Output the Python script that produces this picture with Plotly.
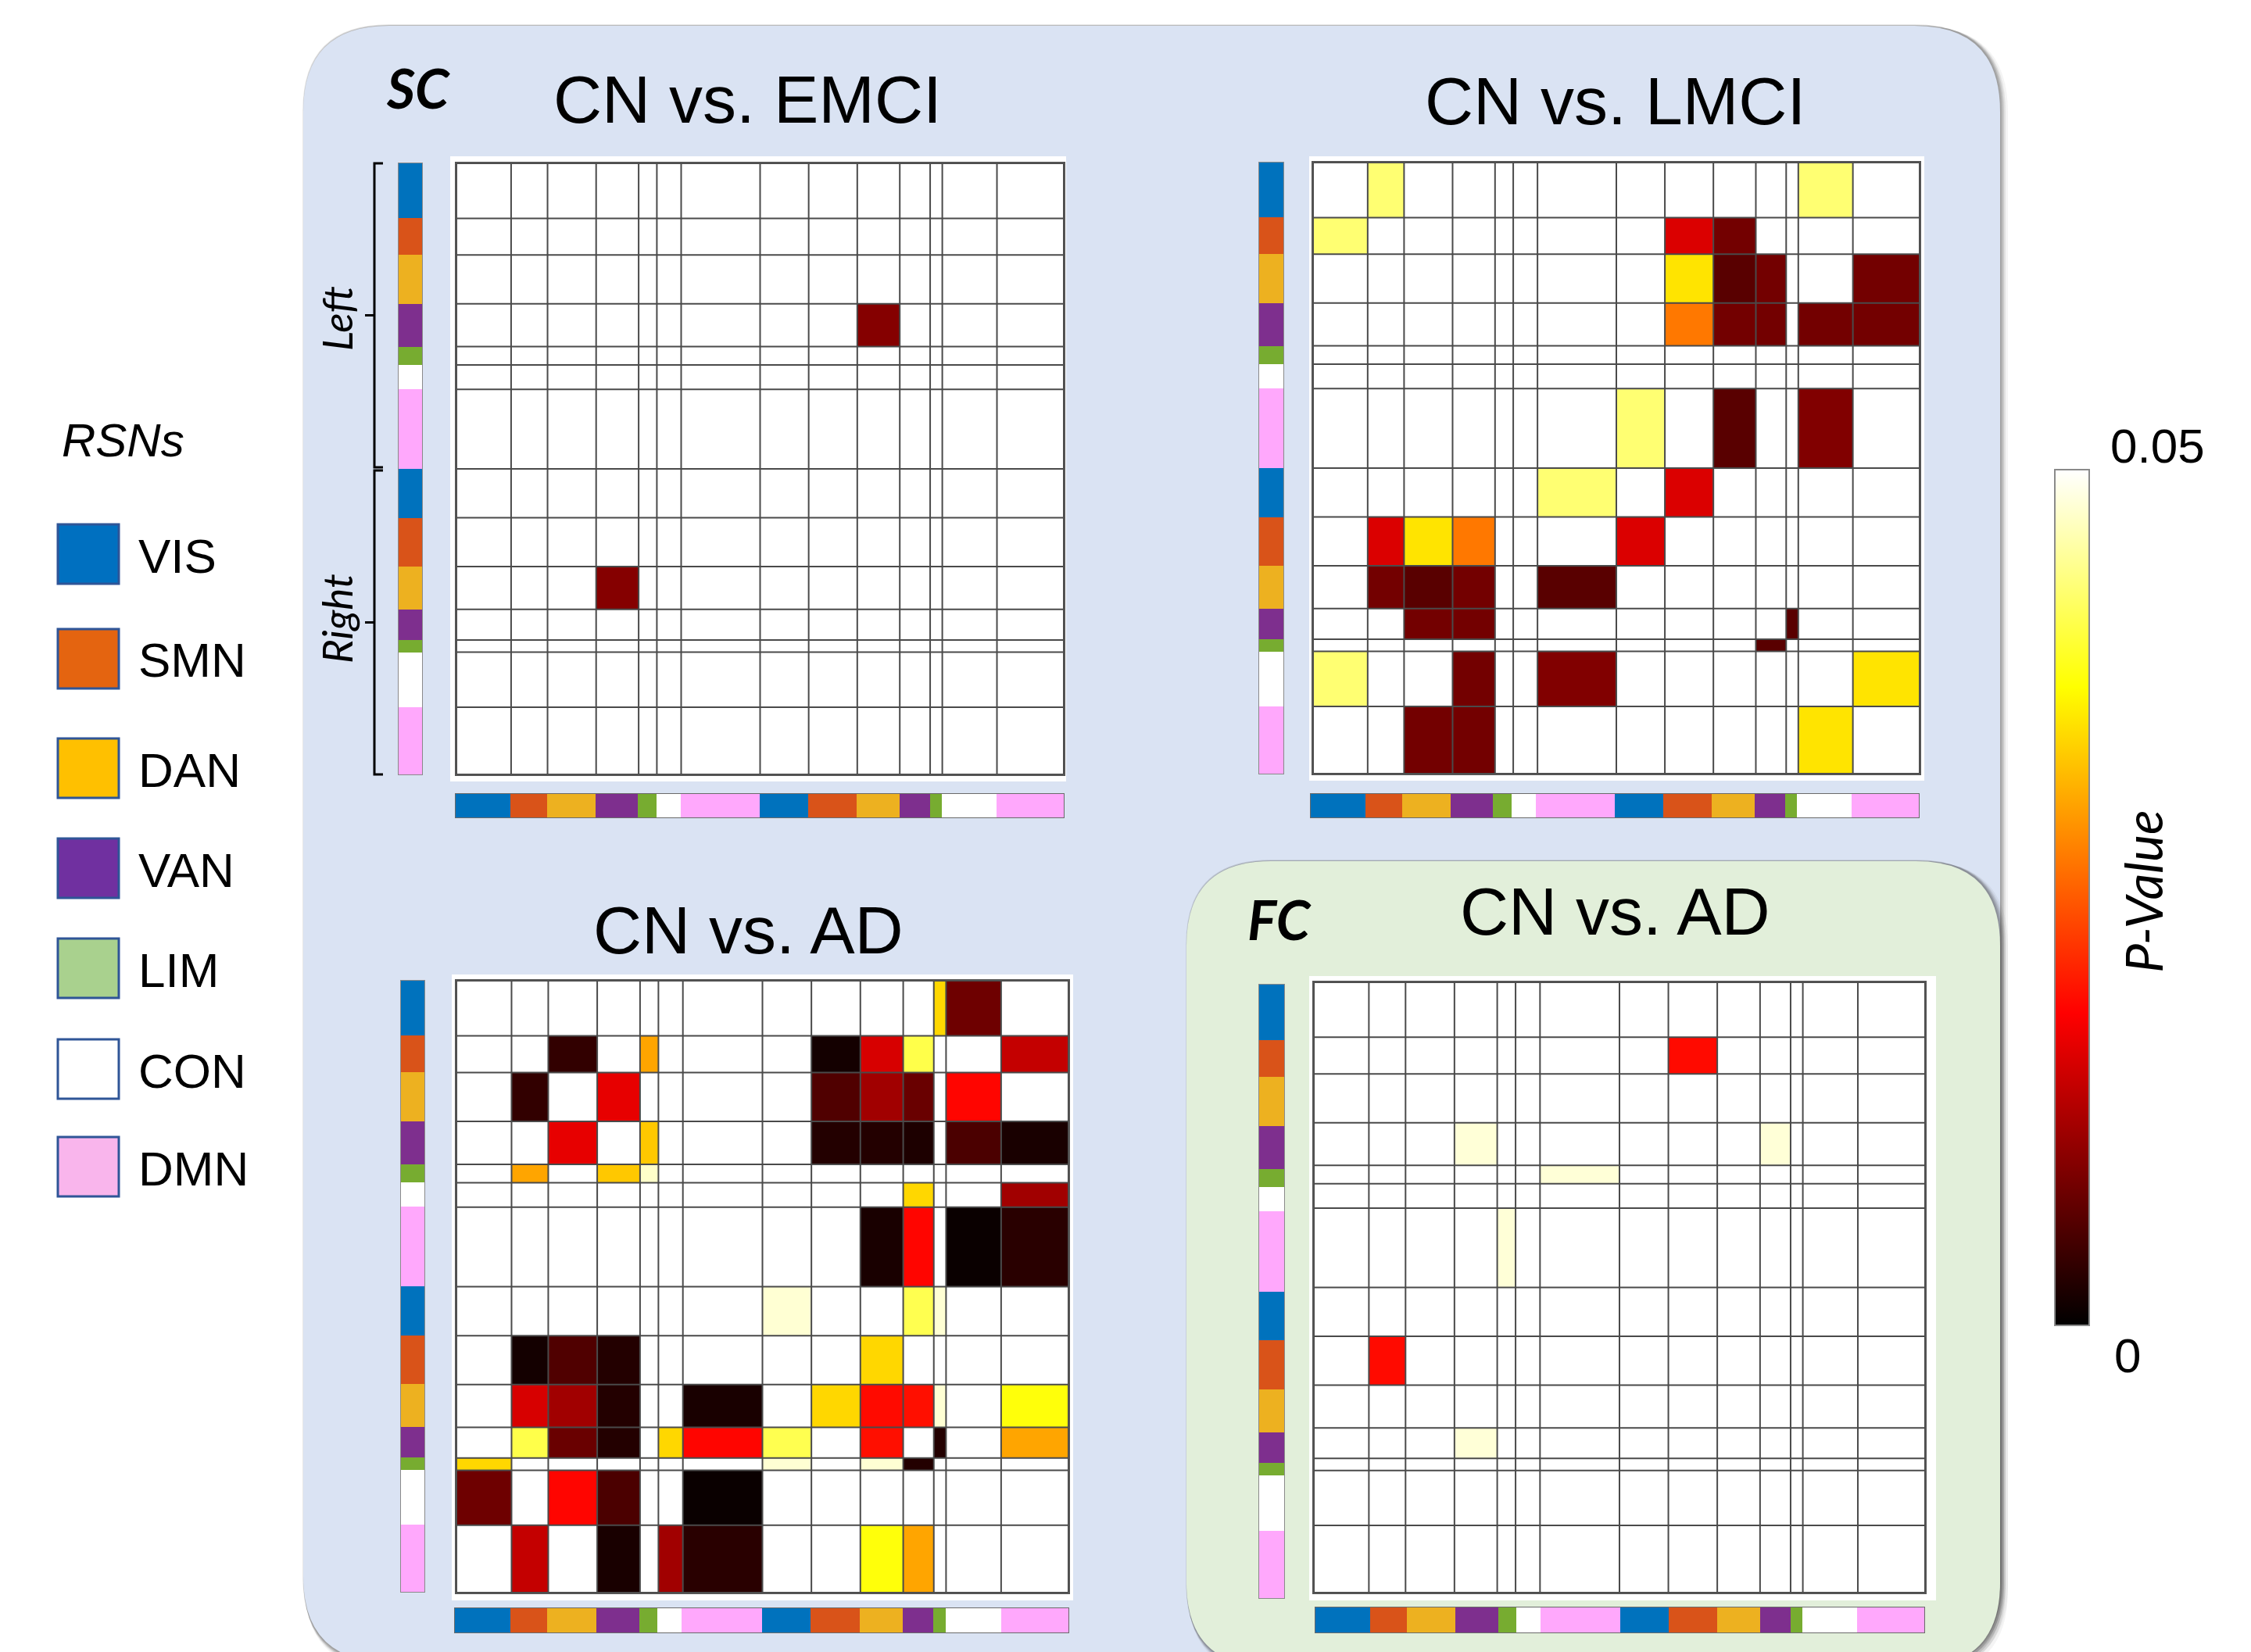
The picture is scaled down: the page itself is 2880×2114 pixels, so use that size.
import numpy as np
import plotly.graph_objects as go

W, H = 2880, 2114
SANS = "Liberation Sans, Arial, sans-serif"
HUMAN = "Lato, Open Sans, sans-serif"

# ---------------- data ----------------
NETWORKS = ["VIS", "SMN", "DAN", "VAN", "LIM", "CON", "DMN"]
HEMISPHERES = ["L", "R"]
BLOCKS = [f"{n}-{h}" for h in HEMISPHERES for n in NETWORKS]
ROI_COUNTS = [9, 6, 8, 7, 3, 4, 13, 8, 8, 7, 5, 2, 9, 11]

STRIP_COLORS = ["#0072BD", "#D95319", "#EDB120", "#7E2F8E", "#77AC30", "#FFFFFF", "#FFA8FC"]
LEGEND_COLORS = ["#0070C0", "#E46410", "#FFC000", "#7030A0", "#A9D18E", "#FFFFFF", "#F9B5EC"]

P_MAX = 0.05  # non-significant cells sit at the top of the scale (white)

CN_EMCI_SC = [
    ("VAN-L", "DAN-R", 0.0095), ("DAN-R", "VAN-L", 0.0095),
]

CN_LMCI_SC = [
    ("VIS-L", "SMN-L", 0.043), ("VIS-L", "CON-R", 0.043),
    ("SMN-L", "VIS-L", 0.043), ("SMN-L", "SMN-R", 0.0157), ("SMN-L", "DAN-R", 0.0082),
    ("DAN-L", "SMN-R", 0.0353), ("DAN-L", "DAN-R", 0.0064), ("DAN-L", "VAN-R", 0.0082), ("DAN-L", "DMN-R", 0.0082),
    ("VAN-L", "SMN-R", 0.0272), ("VAN-L", "DAN-R", 0.0082), ("VAN-L", "VAN-R", 0.0082),
    ("VAN-L", "CON-R", 0.0082), ("VAN-L", "DMN-R", 0.0082),
    ("DMN-L", "VIS-R", 0.043), ("DMN-L", "DAN-R", 0.0064), ("DMN-L", "CON-R", 0.0092),
    ("VIS-R", "DMN-L", 0.043), ("VIS-R", "SMN-R", 0.0157),
    ("SMN-R", "SMN-L", 0.0157), ("SMN-R", "DAN-L", 0.0353), ("SMN-R", "VAN-L", 0.0272), ("SMN-R", "VIS-R", 0.0157),
    ("DAN-R", "SMN-L", 0.0082), ("DAN-R", "DAN-L", 0.0064), ("DAN-R", "VAN-L", 0.0082), ("DAN-R", "DMN-L", 0.0064),
    ("VAN-R", "DAN-L", 0.0082), ("VAN-R", "VAN-L", 0.0082), ("VAN-R", "LIM-R", 0.0064),
    ("LIM-R", "VAN-R", 0.0064),
    ("CON-R", "VIS-L", 0.043), ("CON-R", "VAN-L", 0.0082), ("CON-R", "DMN-L", 0.0092), ("CON-R", "DMN-R", 0.0353),
    ("DMN-R", "DAN-L", 0.0082), ("DMN-R", "VAN-L", 0.0082), ("DMN-R", "CON-R", 0.0353),
]

CN_AD_SC = [
    ("VIS-L", "LIM-R", 0.0343), ("VIS-L", "CON-R", 0.0079),
    ("SMN-L", "DAN-L", 0.0036), ("SMN-L", "LIM-L", 0.0306), ("SMN-L", "SMN-R", 0.0014),
    ("SMN-L", "DAN-R", 0.0154), ("SMN-L", "VAN-R", 0.041), ("SMN-L", "DMN-R", 0.0140),
    ("DAN-L", "SMN-L", 0.0036), ("DAN-L", "VAN-L", 0.0165), ("DAN-L", "SMN-R", 0.0057),
    ("DAN-L", "DAN-R", 0.0115), ("DAN-L", "VAN-R", 0.0075), ("DAN-L", "CON-R", 0.0186),
    ("VAN-L", "DAN-L", 0.0165), ("VAN-L", "LIM-L", 0.0332), ("VAN-L", "SMN-R", 0.0025),
    ("VAN-L", "DAN-R", 0.0025), ("VAN-L", "VAN-R", 0.0021), ("VAN-L", "CON-R", 0.0054), ("VAN-L", "DMN-R", 0.0018),
    ("LIM-L", "SMN-L", 0.0306), ("LIM-L", "VAN-L", 0.0332), ("LIM-L", "LIM-L", 0.0473),
    ("CON-L", "VAN-R", 0.0343), ("CON-L", "DMN-R", 0.0115),
    ("DMN-L", "DAN-R", 0.0018), ("DMN-L", "VAN-R", 0.0186), ("DMN-L", "CON-R", 0.0007), ("DMN-L", "DMN-R", 0.0029),
    ("VIS-R", "VIS-R", 0.0478), ("VIS-R", "VAN-R", 0.0413), ("VIS-R", "LIM-R", 0.0478),
    ("SMN-R", "SMN-L", 0.0014), ("SMN-R", "DAN-L", 0.0057), ("SMN-R", "VAN-L", 0.0025), ("SMN-R", "DAN-R", 0.0343),
    ("DAN-R", "SMN-L", 0.0154), ("DAN-R", "DAN-L", 0.0115), ("DAN-R", "VAN-L", 0.0025), ("DAN-R", "DMN-L", 0.0018),
    ("DAN-R", "SMN-R", 0.0343), ("DAN-R", "DAN-R", 0.0190), ("DAN-R", "VAN-R", 0.0194),
    ("DAN-R", "LIM-R", 0.0478), ("DAN-R", "DMN-R", 0.0378),
    ("VAN-R", "SMN-L", 0.041), ("VAN-R", "DAN-L", 0.0075), ("VAN-R", "VAN-L", 0.0025), ("VAN-R", "CON-L", 0.0343),
    ("VAN-R", "DMN-L", 0.0186), ("VAN-R", "VIS-R", 0.0413), ("VAN-R", "DAN-R", 0.0194),
    ("VAN-R", "LIM-R", 0.0025), ("VAN-R", "DMN-R", 0.0306),
    ("LIM-R", "VIS-L", 0.0343), ("LIM-R", "VIS-R", 0.0478), ("LIM-R", "DAN-R", 0.0478), ("LIM-R", "VAN-R", 0.0025),
    ("CON-R", "VIS-L", 0.0079), ("CON-R", "DAN-L", 0.0186), ("CON-R", "VAN-L", 0.0054), ("CON-R", "DMN-L", 0.0007),
    ("DMN-R", "SMN-L", 0.0140), ("DMN-R", "VAN-L", 0.0018), ("DMN-R", "CON-L", 0.0115),
    ("DMN-R", "DMN-L", 0.0029), ("DMN-R", "DAN-R", 0.0378), ("DMN-R", "VAN-R", 0.0306),
]

CN_AD_FC = [
    ("SMN-L", "SMN-R", 0.019), ("SMN-R", "SMN-L", 0.019),
    ("VAN-L", "VAN-L", 0.048), ("VAN-L", "VAN-R", 0.048), ("VAN-R", "VAN-L", 0.048),
    ("LIM-L", "DMN-L", 0.048), ("DMN-L", "LIM-L", 0.048),
]

PANEL_TITLES = ["CN vs. EMCI", "CN vs. LMCI", "CN vs. AD", "CN vs. AD"]
PANEL_DATA = [CN_EMCI_SC, CN_LMCI_SC, CN_AD_SC, CN_AD_FC]

# ---------------- layout geometry (pixels) ----------------
MATRIX_BOX = [(584, 209, 1361, 991), (1680, 208, 2456, 990), (584, 1255, 1367, 2038), (1681, 1257, 2463, 2038)]
LEFT_BOX = [(510, 209, 540, 991), (1611, 208, 1642, 990), (513, 1255, 543, 2037), (1611, 1260, 1643, 2045)]
BOTTOM_BOX = [(583, 1016, 1361, 1046), (1677, 1016, 2455, 1046), (582, 2058, 1367, 2089), (1683, 2057, 2462, 2089)]
FRAME_BOX = [(576, 200, 1364, 1000), (1675, 200, 2462, 999), (578, 1247, 1373, 2048), (1675, 1249, 2477, 2048)]
TITLE_POS = [(956, 127), (2066, 129), (957, 1190), (2066, 1166)]

HOT = [[0.0, "rgb(0,0,0)"], [0.365, "rgb(255,0,0)"], [0.746, "rgb(255,255,0)"], [1.0, "rgb(255,255,255)"]]
NET_SCALE = [[i / (len(NETWORKS) - 1), c] for i, c in enumerate(STRIP_COLORS)]


def fx(x):
    return x / W


def fy(y):
    return 1 - y / H


def build_matrix(cells):
    n = len(BLOCKS)
    z = [[P_MAX] * n for _ in range(n)]
    for r, c, p in cells:
        z[BLOCKS.index(r)][BLOCKS.index(c)] = p
    return z


edges = np.concatenate([[0], np.cumsum(ROI_COUNTS)]).tolist()
total = edges[-1]
block_net = [NETWORKS.index(b.split("-")[0]) for b in BLOCKS]

fig = go.Figure()
axis_counter = [0]


def new_axes(box, xrange, yrange, linecolor, linewidth):
    axis_counter[0] += 1
    i = axis_counter[0]
    s = "" if i == 1 else str(i)
    x0, y0, x1, y1 = box
    common = dict(showgrid=False, zeroline=False, showticklabels=False, ticks="",
                  showline=True, mirror=True, linecolor=linecolor, linewidth=linewidth,
                  fixedrange=True)
    fig.update_layout(**{
        "xaxis" + s: dict(domain=[fx(x0), fx(x1)], range=xrange, anchor="y" + s, **common),
        "yaxis" + s: dict(domain=[fy(y1), fy(y0)], range=yrange, anchor="x" + s, **common),
    })
    return "x" + s, "y" + s


for p, cells in enumerate(PANEL_DATA):
    # matrix
    xa, ya = new_axes(MATRIX_BOX[p], [0, total], [total, 0], "#555555", 2)
    fig.add_trace(go.Heatmap(
        z=build_matrix(cells), x=edges, y=edges, zmin=0, zmax=P_MAX, colorscale=HOT,
        showscale=(p == 0), hoverinfo="skip", xaxis=xa, yaxis=ya,
        colorbar=dict(x=fx(2629), xanchor="left", y=fy(601), yanchor="top",
                      len=(1696 - 601) / H, lenmode="fraction", thickness=44, thicknessmode="pixels",
                      outlinewidth=2, outlinecolor="#8a8a8a", showticklabels=False, ticks="",
                      xpad=0, ypad=0),
    ))
    gx, gy = [], []
    for e in edges:
        gx += [e, e, None]
        gy += [0, total, None]
        gx += [0, total, None]
        gy += [e, e, None]
    fig.add_trace(go.Scatter(x=gx, y=gy, mode="lines", line=dict(color="#4a4a4a", width=2),
                             hoverinfo="skip", showlegend=False, xaxis=xa, yaxis=ya))
    # left network strip
    xa, ya = new_axes(LEFT_BOX[p], [0, 1], [total, 0], "#8a8a8a", 1)
    fig.add_trace(go.Heatmap(z=[[v] for v in block_net], x=[0, 1], y=edges, zmin=0, zmax=len(NETWORKS) - 1,
                             colorscale=NET_SCALE, showscale=False, hoverinfo="skip", xaxis=xa, yaxis=ya))
    # bottom network strip
    xa, ya = new_axes(BOTTOM_BOX[p], [0, total], [0, 1], "#6a6a6a", 1)
    fig.add_trace(go.Heatmap(z=[block_net], x=edges, y=[0, 1], zmin=0, zmax=len(NETWORKS) - 1,
                             colorscale=NET_SCALE, showscale=False, hoverinfo="skip", xaxis=xa, yaxis=ya))

# ---------------- decorations ----------------
shapes = []


def rounded_path(x0, y0, x1, y1, r):
    def P(x, y):
        return f"{fx(x):.6f},{fy(y):.6f}"
    return (f"M {P(x0 + r, y0)} L {P(x1 - r, y0)} Q {P(x1, y0)} {P(x1, y0 + r)} "
            f"L {P(x1, y1 - r)} Q {P(x1, y1)} {P(x1 - r, y1)} L {P(x0 + r, y1)} "
            f"Q {P(x0, y1)} {P(x0, y1 - r)} L {P(x0, y0 + r)} Q {P(x0, y0)} {P(x0 + r, y0)} Z")


def panel_bg(x0, y0, x1, y1, r, color):
    for d, a in [(10, 0.06), (7, 0.10), (5, 0.14), (3, 0.18), (1, 0.15)]:
        shapes.append(dict(type="path", xref="paper", yref="paper", layer="below",
                           path=rounded_path(x0 - 1 + d * 0.3, y0 - 2 + d * 0.3, x1 + d, y1 + d, r),
                           fillcolor=f"rgba(60,60,60,{a})", line=dict(width=0)))
    shapes.append(dict(type="path", xref="paper", yref="paper", layer="below",
                       path=rounded_path(x0, y0, x1, y1, r), fillcolor=color, line=dict(width=0)))


panel_bg(388, 33, 2559, 2127, 110, "#DAE3F3")
panel_bg(1518, 1102, 2559, 2133, 108, "#E2EFDA")

for (x0, y0, x1, y1) in FRAME_BOX:
    shapes.append(dict(type="rect", xref="paper", yref="paper", layer="below",
                       x0=fx(x0), x1=fx(x1), y0=fy(y1), y1=fy(y0), fillcolor="white", line=dict(width=0)))

# Left / Right hemisphere brackets
def bracket(y0, y1):
    pts = [(490, y0), (479, y0), (479, y1), (490, y1)]
    path = "M " + " L ".join(f"{fx(x):.6f},{fy(y):.6f}" for x, y in pts)
    shapes.append(dict(type="path", xref="paper", yref="paper", path=path,
                       line=dict(color="black", width=3)))
    ym = (y0 + y1) / 2
    shapes.append(dict(type="line", xref="paper", yref="paper", x0=fx(479), x1=fx(467),
                       y0=fy(ym), y1=fy(ym), line=dict(color="black", width=3)))


bracket(209, 598)
bracket(602, 991)

# legend squares
LEGEND_Y = [709, 843, 983, 1111, 1239, 1368, 1493]
for net, col, yc in zip(NETWORKS, LEGEND_COLORS, LEGEND_Y):
    shapes.append(dict(type="rect", xref="paper", yref="paper", x0=fx(74), x1=fx(152),
                       y0=fy(yc + 38), y1=fy(yc - 38), fillcolor=col,
                       line=dict(color="#2F5597", width=3)))

annotations = []


def text(x, y, s, size, family=SANS, xanchor="center", angle=0, color="black"):
    annotations.append(dict(x=fx(x), y=fy(y), xref="paper", yref="paper", text=s, showarrow=False,
                            xanchor=xanchor, yanchor="middle", textangle=angle,
                            font=dict(size=size, family=family, color=color)))


for t, (x, y) in zip(PANEL_TITLES, TITLE_POS):
    text(x, y, t, 86)

text(535, 112, "<b><i>SC</i></b>", 70, HUMAN)
text(1637, 1176, "<b><i>FC</i></b>", 70, HUMAN)
text(430, 408, "<i>Left</i>", 53, HUMAN, angle=-90)
text(430, 792, "<i>Right</i>", 53, HUMAN, angle=-90)

text(77, 563, "<i>RSNs</i>", 60, SANS, xanchor="left")
for net, yc in zip(NETWORKS, LEGEND_Y):
    text(175, yc + 2, net, 62, SANS, xanchor="left")

text(2760, 570, "0.05", 62)
text(2722, 1734, "0", 62)
text(2741, 1141, "<i>P-Value</i>", 66, HUMAN, angle=-90)

fig.update_layout(
    width=W, height=H, margin=dict(l=0, r=0, t=0, b=0, pad=0),
    paper_bgcolor="white", plot_bgcolor="white", showlegend=False,
    shapes=shapes, annotations=annotations,
)

fig.write_html("out.html", config={"displayModeBar": False},
               post_script="document.body.style.margin='0';document.body.style.overflow='hidden';")
